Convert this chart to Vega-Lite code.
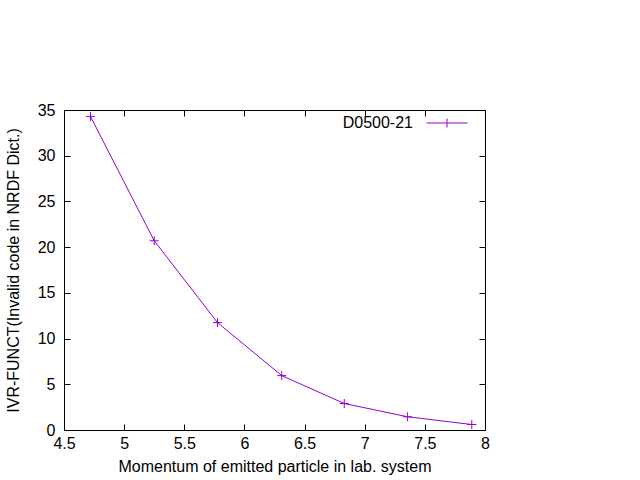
{
  "$schema": "https://vega.github.io/schema/vega-lite/v6.json",
  "autosize": "none",
  "width": 421,
  "height": 320,
  "padding": {"left": 64, "top": 110, "right": 155, "bottom": 50},
  "background": "white",
  "config": {
    "font": "Liberation Sans",
    "view": {"stroke": "black", "strokeWidth": 1},
    "axis": {
      "grid": false,
      "domain": false,
      "tickColor": "black",
      "tickSize": -6,
      "labelFont": "Liberation Sans",
      "labelFontSize": 16,
      "labelColor": "black",
      "titleFont": "Liberation Sans",
      "titleFontSize": 16,
      "titleFontWeight": "normal",
      "titleColor": "black"
    }
  },
  "data": {
    "values": [
      {"p": 4.72, "v": 34.3, "series": "D0500-21"},
      {"p": 5.25, "v": 20.7, "series": "D0500-21"},
      {"p": 5.776, "v": 11.75, "series": "D0500-21"},
      {"p": 6.31, "v": 5.95, "series": "D0500-21"},
      {"p": 6.83, "v": 2.9, "series": "D0500-21"},
      {"p": 7.355, "v": 1.45, "series": "D0500-21"},
      {"p": 7.89, "v": 0.6, "series": "D0500-21"}
    ]
  },
  "resolve": {"axis": {"x": "independent", "y": "independent"}},
  "layer": [
    {
      "mark": {"type": "line", "color": "#9400D3", "strokeWidth": 1},
      "encoding": {
        "x": {"field": "p", "type": "quantitative", "scale": {"domain": [4.5, 8], "nice": false, "zero": false},
          "axis": {"orient": "bottom", "values": [4.5, 5, 5.5, 6, 6.5, 7, 7.5, 8], "format": "~g", "labelPadding": 11, "title": "Momentum of emitted particle in lab. system", "titlePadding": 7, "labelFlush": false}},
        "y": {"field": "v", "type": "quantitative", "scale": {"domain": [0, 35], "nice": false},
          "axis": {"orient": "left", "values": [0, 5, 10, 15, 20, 25, 30, 35], "labelPadding": 15, "title": "IVR-FUNCT(Invalid code in NRDF Dict.)", "titlePadding": 16}}
      }
    },
    {
      "mark": {"type": "point", "shape": "M-1,0H1M0,-1V1", "filled": false, "strokeWidth": 1, "size": 81, "opacity": 1},
      "encoding": {
        "x": {"field": "p", "type": "quantitative", "scale": {"domain": [4.5, 8], "nice": false, "zero": false},
          "axis": {"orient": "top", "values": [4.5, 5, 5.5, 6, 6.5, 7, 7.5, 8], "labels": false, "title": null}},
        "y": {"field": "v", "type": "quantitative", "scale": {"domain": [0, 35], "nice": false},
          "axis": {"orient": "right", "values": [0, 5, 10, 15, 20, 25, 30, 35], "labels": false, "title": null}},
        "color": {"field": "series", "type": "nominal", "scale": {"range": ["#9400D3"]},
          "legend": {
            "orient": "none", "legendX": 362, "legendY": -8, "title": null, "padding": 0,
            "symbolType": "M-1,0H1M0,-0.22V0.22", "symbolSize": 1681, "symbolStrokeWidth": 1,
            "symbolFillColor": "transparent", "symbolStrokeColor": "#9400D3",
            "labelAlign": "right", "labelOffset": -55, "labelFontSize": 16, "labelFont": "Liberation Sans", "labelColor": "black"
          }}
      }
    }
  ]
}
